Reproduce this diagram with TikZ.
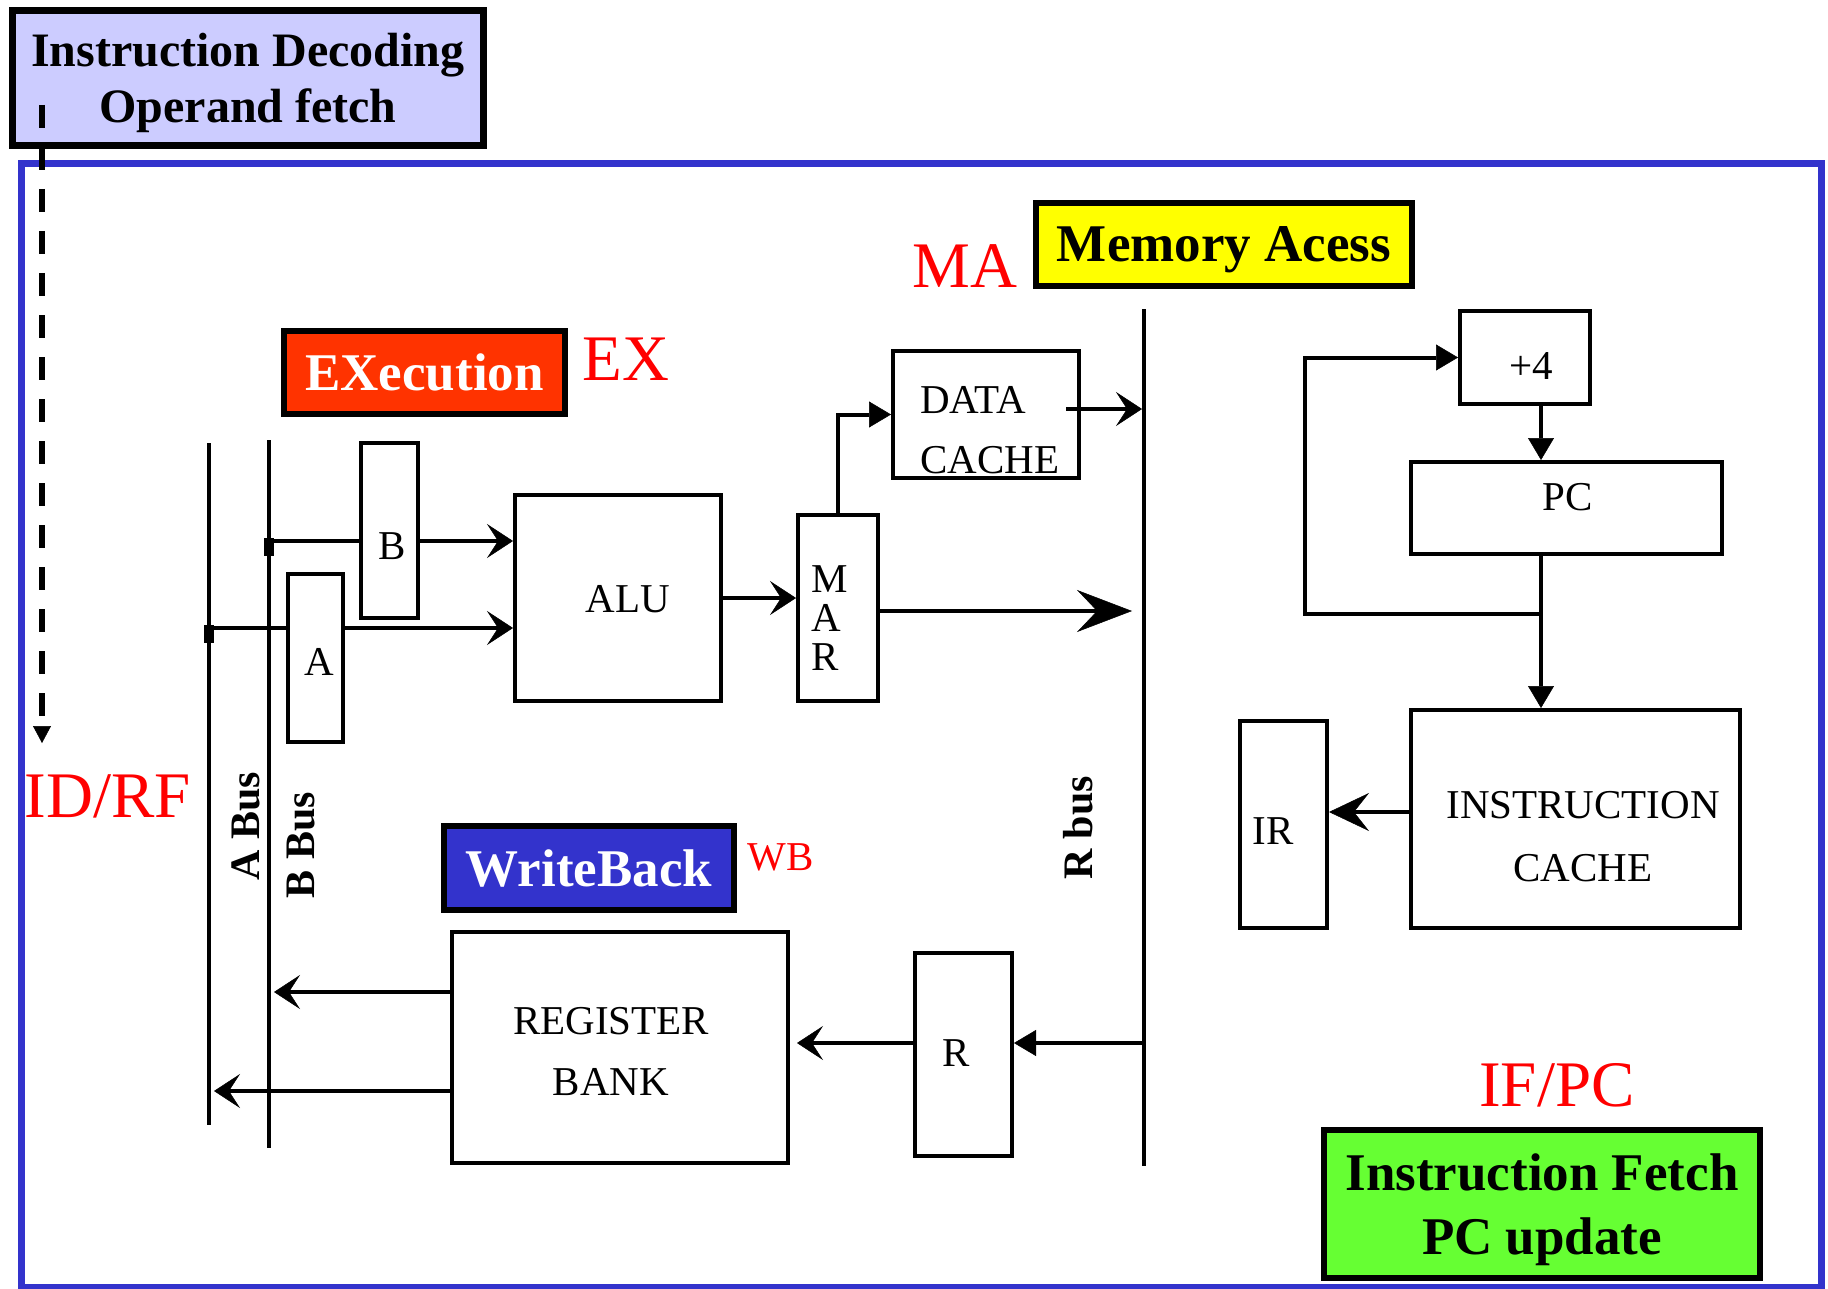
\documentclass[tikz,border=0pt]{standalone}
\usepackage{fontspec}
\setmainfont{Liberation Serif}
\usetikzlibrary{arrows.meta}
\definecolor{lav}{HTML}{CCCCFF}
\definecolor{exred}{HTML}{FF3300}
\definecolor{ylw}{HTML}{FFFF00}
\definecolor{wbblue}{HTML}{3333CC}
\definecolor{ifgreen}{HTML}{66FF33}
\definecolor{lblred}{HTML}{FF0000}
\tikzset{
  chv/.tip={Stealth[length=26pt,width=34pt,inset=11pt,line width=0.5pt]},
  tri/.tip={Triangle[length=22pt,width=26pt,line width=0.5pt]},
  fat/.tip={Stealth[length=55pt,width=42pt,inset=20pt,line width=0.5pt]},
  fatb/.tip={Stealth[length=40pt,width=38pt,inset=15pt,line width=0.5pt]},
  dtip/.tip={Triangle[length=17pt,width=18pt,line width=0.5pt]},
  stagebox/.style={draw=black,line width=6pt,inner sep=0pt,align=center,text depth=0pt,font=\bfseries\fontsize{53}{64}\selectfont},
  unit/.style={draw=black,line width=4pt,inner sep=0pt},
  utext/.style={inner sep=0pt,align=center,font=\fontsize{41}{61}\selectfont},
  stagetag/.style={inner sep=0pt,text=lblred,font=\fontsize{65}{70}\selectfont},
  buslbl/.style={inner sep=0pt,rotate=90,font=\bfseries\fontsize{42}{50}\selectfont},
  wire/.style={line width=4pt},
}
\begin{document}
\begin{tikzpicture}[x=1pt,y=-1pt]
\useasboundingbox[fill=white] (0,0) rectangle (1828,1289);

% outer frame
\draw[wbblue,line width=7pt] (21,164) rectangle (1821,1287);

% stage boxes
\node[stagebox,line width=7pt,fill=lav,minimum width=471pt,minimum height=135pt,font=\bfseries\fontsize{48}{56}\selectfont] (idbox) at (248,78) {Instruction Decoding\\Operand fetch};
\node[stagebox,fill=exred,text=white,minimum width=281pt,minimum height=83pt] (exbox) at (424.5,372.5) {EXecution};
\node[stagebox,fill=ylw,minimum width=376pt,minimum height=83pt] (mabox) at (1224,244.5) {Memory Acess};
\node[stagebox,fill=wbblue,text=white,minimum width=290pt,minimum height=84pt] (wbbox) at (589,868) {WriteBack};
\node[stagebox,fill=ifgreen,minimum width=436pt,minimum height=148pt] (ifbox) at (1542,1204) {Instruction Fetch\\PC update};

% stage tags
\node[stagetag] (extag) at (626,359) {EX};
\node[stagetag] (matag) at (965,266) {MA};
\node[stagetag] (idtag) at (108,796) {ID/RF};
\node[stagetag] (iftag) at (1557,1085) {IF/PC};
\node[stagetag,font=\fontsize{41}{48}\selectfont] (wbtag) at (781,857) {WB};

% dashed pointer
\coordinate (dtop) at (42,105);
\coordinate (dend) at (42,743);
\draw[line width=6pt,dash pattern=on 23pt off 19pt,-dtip] (dtop) -- (dend);

% buses
\coordinate (abT) at (209,443); \coordinate (abB) at (209,1125);
\coordinate (bbT) at (269,440); \coordinate (bbB) at (269,1148);
\coordinate (rbT) at (1144,309); \coordinate (rbB) at (1144,1166);
\draw[wire] (abT) -- (abB);
\draw[wire] (bbT) -- (bbB);
\draw[line width=4.5pt] (rbT) -- (rbB);
\node[buslbl] (albl) at (246,826) {A Bus};
\node[buslbl] (blbl) at (301,845) {B Bus};
\node[buslbl] (rlbl) at (1078,828) {R bus};

% units
\node[unit,minimum width=57pt,minimum height=175pt] (Breg) at (389.5,530.5) {};
\node[unit,minimum width=55pt,minimum height=168pt] (Areg) at (315.5,658) {};
\node[unit,minimum width=206pt,minimum height=206pt] (alu) at (618,598) {};
\node[unit,minimum width=80pt,minimum height=186pt] (mar) at (838,608) {};
\node[unit,minimum width=186pt,minimum height=127pt] (dc) at (986,414.5) {};
\node[unit,minimum width=97pt,minimum height=203pt] (rreg) at (963.5,1054.5) {};
\node[unit,minimum width=336pt,minimum height=231pt] (rb) at (620,1047.5) {};
\node[unit,minimum width=130pt,minimum height=93pt] (plus) at (1525,357.5) {};
\node[unit,minimum width=311pt,minimum height=92pt] (pc) at (1566.5,508) {};
\node[unit,minimum width=329pt,minimum height=218pt] (ic) at (1575.5,819) {};
\node[unit,minimum width=87pt,minimum height=207pt] (ir) at (1283.5,824.5) {};

% unit texts
\node[utext] (tB) at (392,546) {B};
\node[utext] (tA) at (319,662) {A};
\node[utext] (tALU) at (628,599) {ALU};
\node[utext,align=left,anchor=west,font=\fontsize{41}{39}\selectfont] (tMAR) at (811,618) {M\\A\\R};
\node[utext,align=left,anchor=west,font=\fontsize{41}{60}\selectfont] (tDC) at (920,430) {DATA\\CACHE};
\node[utext] (tRB) at (611,1051) {REGISTER\\BANK};
\node[utext,font=\fontsize{41}{63}\selectfont] (tIC) at (1583,837) {INSTRUCTION\\CACHE};
\node[utext] (tIR) at (1273,831) {IR};
\node[utext] (tR) at (956,1053) {R};
\node[utext] (tP4) at (1531,366) {+4};
\node[utext] (tPC) at (1568,497) {PC};

% junctions
\coordinate (jb) at (269,541);
\coordinate (ja) at (209,628);
\fill (264,538) rectangle (274,556);
\fill (204,625) rectangle (214,643);

% connectors
\draw[wire] (jb) -- (jb -| Breg.west);
\draw[wire,-chv] (jb -| Breg.east) -- (jb -| alu.west);
\draw[wire] (ja) -- (ja -| Areg.west);
\draw[wire,-chv] (ja -| Areg.east) -- (ja -| alu.west);
\draw[wire,-chv] (alu.east) -- (alu.east -| mar.west);
\draw[wire,-tri] (mar.north) |- (dc.west);
\coordinate (dco) at (1066,409);
\draw[wire,-chv,shorten >=2pt] (dco) -- (dco -| rbT);
\coordinate (my) at (0,611);
\draw[wire,-fat,shorten >=12pt] (mar.east |- my) -- (rbT |- my);
\coordinate (rtap) at (1144,1043);
\draw[wire,-tri] (rtap) -- (rtap -| rreg.east);
\draw[wire,-chv,shorten >=7pt] (rtap -| rreg.west) -- (rtap -| rb.east);
\coordinate (yb) at (0,992);
\coordinate (ya) at (0,1091);
\draw[wire,-chv,shorten >=5pt] (rb.west |- yb) -- (bbT |- yb);
\draw[wire,-chv,shorten >=5pt] (rb.west |- ya) -- (abT |- ya);

\coordinate (pcx) at (1541,0);
\draw[wire,-tri] (plus.south -| pcx) -- (pc.north -| pcx);
\draw[wire,-tri] (pc.south -| pcx) -- (ic.north -| pcx);
\coordinate (lj) at (1541,614);
\draw[wire,-tri] (lj) -- ++(-236,0) |- (plus.west);
\coordinate (iy) at (0,812);
\draw[wire,-fatb] (ic.west |- iy) -- (ir.east |- iy);
\end{tikzpicture}
\end{document}
